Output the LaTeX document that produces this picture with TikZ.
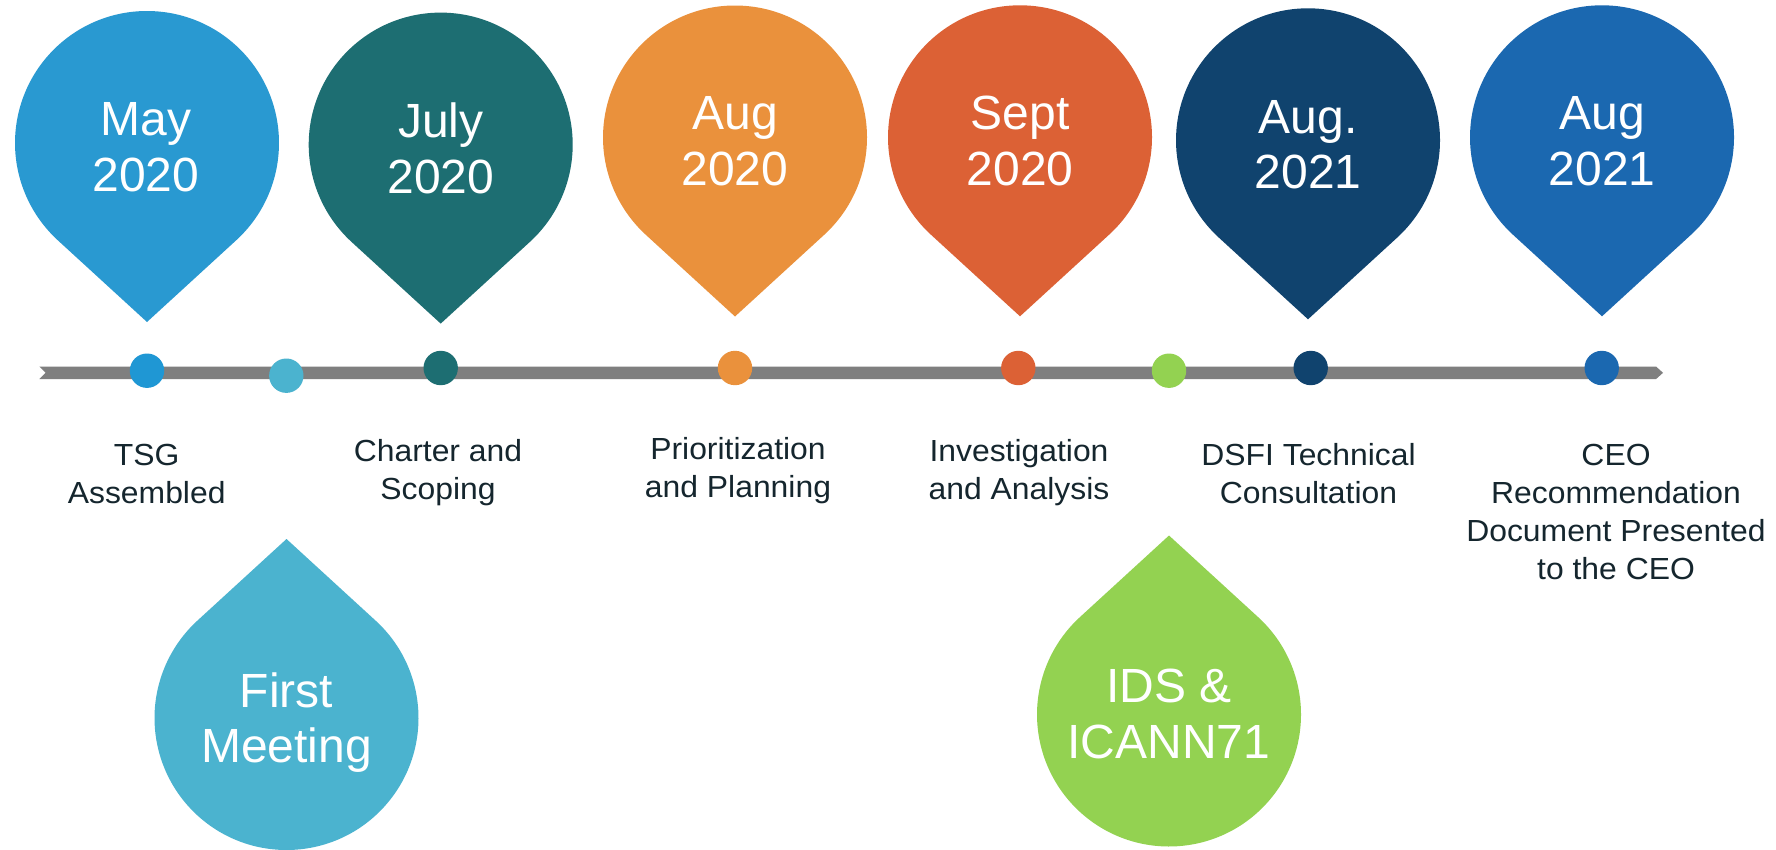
\documentclass[tikz,border=0pt]{standalone}
\usepackage{fontspec}
\setmainfont{Liberation Sans}
\newfontfamily\labelfont[FakeStretch=1.045]{Liberation Sans}
\usetikzlibrary{calc}

\definecolor{cMay}{HTML}{2999D1}
\definecolor{cMayDot}{HTML}{1F97D4}
\definecolor{cFirst}{HTML}{4BB3CF}
\definecolor{cJuly}{HTML}{1D6E72}
\definecolor{cAug}{HTML}{EA913C}
\definecolor{cSept}{HTML}{DC6135}
\definecolor{cIds}{HTML}{93D251}
\definecolor{cNavy}{HTML}{10436E}
\definecolor{cBlue}{HTML}{1B68B0}
\definecolor{cBar}{HTML}{7F7F7F}
\definecolor{cLabel}{HTML}{15262E}

\tikzset{
  % teardrop pointing down onto the time line
  pics/pindown/.style={code={
    \fill[#1] (90:179) -- (47.5:132)
      arc[start angle=47.5, end angle=-227.5, radius=132] -- cycle;
  }},
  % teardrop pointing up towards the time line
  pics/pinup/.style={code={
    \fill[#1] (-90:179) -- (-47.5:132)
      arc[start angle=-47.5, end angle=227.5, radius=132] -- cycle;
  }},
  pintext/.style={anchor=base, inner sep=0, text=white,
    font=\fontsize{48}{55.7}\selectfont},
  milestone/.style={anchor=base, inner sep=0, text=cLabel,
    font=\labelfont\fontsize{30.5}{38}\selectfont},
  dot/.style={circle, inner sep=0, minimum size=34.4, draw=none},
  bar/.style={fill=cBar},
}

\newcommand{\twolines}[2]{\begin{tabular}[t]{@{}c@{}}#1\\#2\end{tabular}}

\begin{document}
\begin{tikzpicture}[x=1pt, y=-1pt]
  \useasboundingbox (0,0) rectangle (1776,850);
  \fill[white] (0,0) rectangle (1776,850);

  % time line
  \coordinate (tail) at (39.3,372.8);
  \coordinate (head) at (1663,372.8);
  \fill[bar] ($(tail)+(0,-6.3)$) -- ($(head)+(-7,-6.3)$) -- (head)
    -- ($(head)+(-7,6.3)$) -- ($(tail)+(0,6.3)$) -- ($(tail)+(6.4,0)$) -- cycle;

  % upper teardrops
  \pic at (147,143)   {pindown=cMay};
  \pic at (440.7,144.6) {pindown=cJuly};
  \pic at (735,137.5) {pindown=cAug};
  \pic at (1020,137.3) {pindown=cSept};
  \pic at (1308,140.3) {pindown=cNavy};
  \pic at (1602,137.3) {pindown=cBlue};

  % lower teardrops
  \pic at (286.5,718) {pinup=cFirst};
  \pic at (1169,714.5) {pinup=cIds};

  \node[pintext] (tMay)   at (146,136)    {\twolines{May}{2020}};
  \node[pintext] (tJuly)  at (440.7,137.7) {\twolines{July}{2020}};
  \node[pintext] (tAug)   at (735,130)    {\twolines{Aug}{2020}};
  \node[pintext] (tSept)  at (1020,130)   {\twolines{Sept}{2020}};
  \node[pintext] (tAugD)  at (1308,133.3) {\twolines{Aug.}{2021}};
  \node[pintext] (tAugB)  at (1602,130)   {\twolines{Aug}{2021}};
  \node[pintext] (tFirst) at (286.5,707)  {\twolines{First}{Meeting}};
  \node[pintext] (tIds)   at (1169,702.3) {\twolines{IDS \&}{ICANN71}};

  % milestone dots on the time line
  \node[dot, fill=cMayDot] (d1) at (147,370.7) {};
  \node[dot, fill=cFirst]  (d2) at (286.3,375.7) {};
  \node[dot, fill=cJuly]   (d3) at (440.7,368) {};
  \node[dot, fill=cAug]    (d4) at (735,368) {};
  \node[dot, fill=cSept]   (d5) at (1018.3,368) {};
  \node[dot, fill=cIds]    (d6) at (1169,370.7) {};
  \node[dot, fill=cNavy]   (d7) at (1310.7,368) {};
  \node[dot, fill=cBlue]   (d8) at (1601.7,368) {};

  % milestone descriptions
  \node[milestone] (l1) at (146.7,465.7) {\twolines{TSG}{Assembled}};
  \node[milestone] (l2) at (438,461)     {\twolines{Charter and}{Scoping}};
  \node[milestone] (l3) at (738,459.3)   {\twolines{Prioritization}{and Planning}};
  \node[milestone] (l4) at (1019,461)    {\twolines{Investigation}{and Analysis}};
  \node[milestone] (l5) at (1308.5,465)  {\twolines{DSFI Technical}{Consultation}};
  \node[milestone] (l6) at (1616,465)
    {\begin{tabular}[t]{@{}c@{}}CEO\\Recommendation\\Document Presented\\to the CEO\end{tabular}};
\end{tikzpicture}
\end{document}
